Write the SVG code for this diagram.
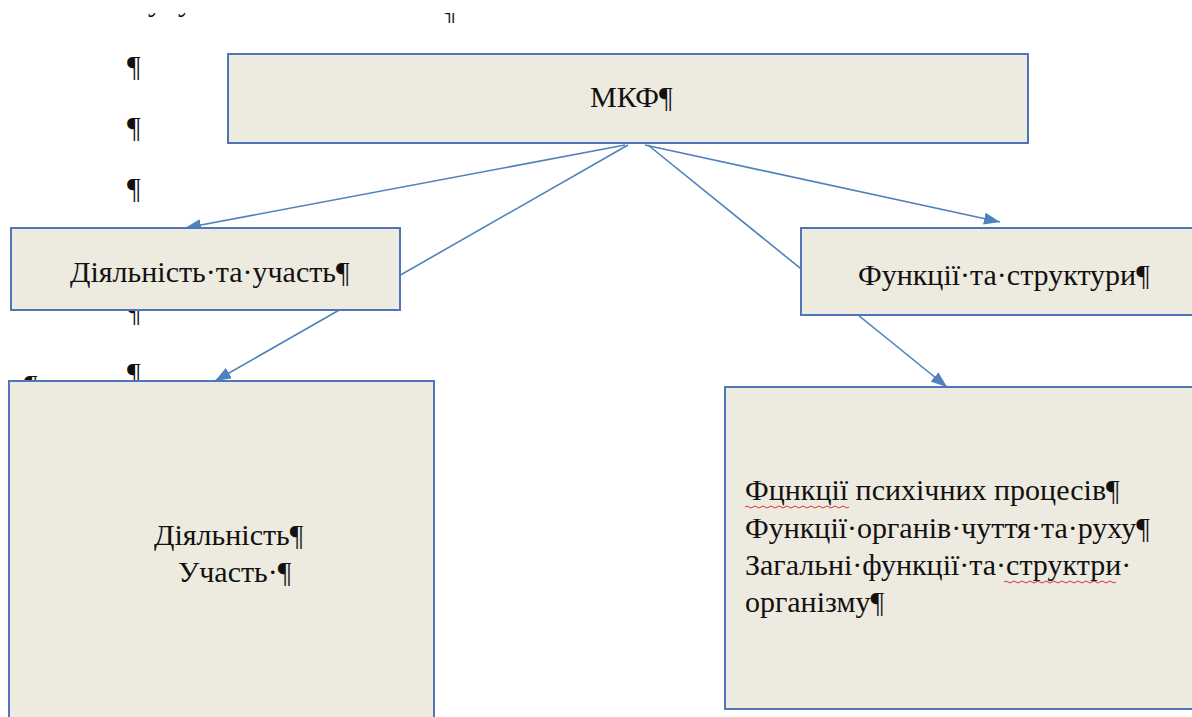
<svg xmlns="http://www.w3.org/2000/svg" width="1192" height="717" viewBox="0 0 1192 717">
<style>
.box{fill:#EDEAE0;stroke:#4F76B8;stroke-width:2}
.t{font-family:"Liberation Serif","DejaVu Serif",serif;font-size:30px;fill:#111}
.pil{font-family:"Liberation Serif","DejaVu Serif",serif;font-size:30px;fill:#111}
.ln{stroke:#4F81BD;stroke-width:1.6;fill:none}
.wave{stroke:#E03030;stroke-width:1;fill:none}
</style>
<defs>
<marker id="ahb" viewBox="0 0 16 12" refX="16" refY="6" markerWidth="16" markerHeight="12" markerUnits="userSpaceOnUse" orient="auto">
<path d="M0,0 L16,6 L0,12 z" fill="#4F81BD"/>
</marker>
<clipPath id="topclip"><rect x="0" y="13" width="1192" height="10"/></clipPath>
</defs>
<rect width="1192" height="717" fill="#fff"/>
<g id="stray-marks" clip-path="url(#topclip)">
<text class="t" x="148" y="11">у</text>
<text class="t" x="178" y="11">у</text>
<text class="pil" x="442" y="22">¶</text>
</g>
<g id="pilcrows">
<text class="pil" x="127" y="76">¶</text>
<text class="pil" x="127" y="137">¶</text>
<text class="pil" x="127" y="198">¶</text>
<text class="pil" x="127" y="321">¶</text>
<text class="pil" x="127" y="383">¶</text>
<text class="pil" x="24" y="395">¶</text>
</g>
<g id="connectors">
<line class="ln" x1="625" y1="145" x2="185" y2="228" marker-end="url(#ahb)"/>
<line class="ln" x1="628" y1="145" x2="215" y2="381" marker-end="url(#ahb)"/>
<line class="ln" x1="645" y1="145" x2="1000" y2="222" marker-end="url(#ahb)"/>
<line class="ln" x1="648" y1="145" x2="947" y2="387" marker-end="url(#ahb)"/>
</g>
<g id="node-mkf">
<rect class="box" x="228" y="54" width="800" height="89"/>
<text class="t" x="590" y="107">МКФ¶</text>
</g>
<g id="node-activity">
<rect class="box" x="11" y="228" width="389" height="82"/>
<text class="t" x="70" y="282">Діяльність·та·участь¶</text>
</g>
<g id="node-functions">
<rect class="box" x="801" y="228" width="400" height="87"/>
<text class="t" x="858" y="285">Функції·та·структури¶</text>
</g>
<g id="node-activity-list">
<rect class="box" x="9" y="381" width="425" height="345"/>
<text class="t" x="154" y="545">Діяльність¶</text>
<text class="t" x="178" y="582">Участь·¶</text>
</g>
<g id="node-functions-list">
<rect class="box" x="725" y="387" width="480" height="322"/>
<text class="t" x="745" y="500">Фцнкції психічних процесів¶</text>
<text class="t" x="745" y="538">Функції·органів·чуття·та·руху¶</text>
<text class="t" x="745" y="575">Загальні·функції·та·структри·</text>
<text class="t" x="745" y="612">організму¶</text>
<path class="wave" d="M745,507 q2,-2 4,0 t4,0 t4,0 t4,0 t4,0 t4,0 t4,0 t4,0 t4,0 t4,0 t4,0 t4,0 t4,0 t4,0 t4,0 t4,0 t4,0 t4,0 t4,0 t4,0 t4,0 t4,0 t4,0 t4,0 t4,0 t4,0"/>
<path class="wave" d="M1004,582 q2,-2 4,0 t4,0 t4,0 t4,0 t4,0 t4,0 t4,0 t4,0 t4,0 t4,0 t4,0 t4,0 t4,0 t4,0 t4,0 t4,0 t4,0 t4,0 t4,0 t4,0 t4,0 t4,0 t4,0 t4,0 t4,0 t4,0 t4,0 t4,0"/>
</g>
</svg>
